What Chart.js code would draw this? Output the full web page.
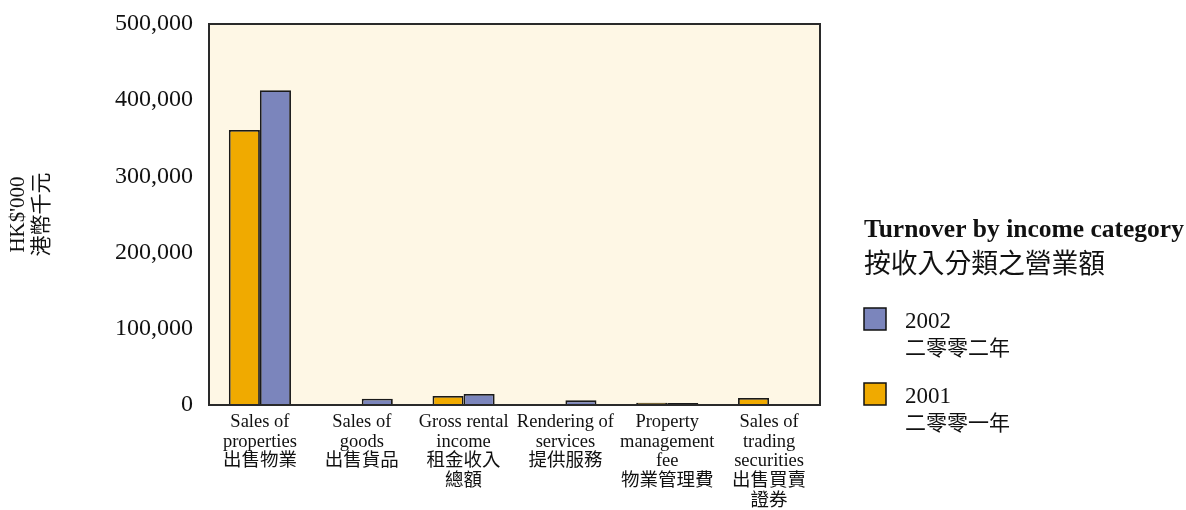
<!DOCTYPE html>
<html>
<head>
<meta charset="utf-8">
<script src="https://cdn.jsdelivr.net/npm/chart.js@4/dist/chart.umd.min.js"></script>
<style>
  html, body { margin: 0; padding: 0; background: #ffffff; }
  #wrap { width: 1186px; height: 510px; }
</style>
</head>
<body>
<div id="wrap"><canvas id="c" width="1186" height="510"></canvas></div>
<script>
// Income categories (English + Chinese, one array entry per label line)
const categories = [
  ["Sales of", "properties", "出售物業"],
  ["Sales of", "goods", "出售貨品"],
  ["Gross rental", "income", "租金收入", "總額"],
  ["Rendering of", "services", "提供服務"],
  ["Property", "management", "fee", "物業管理費"],
  ["Sales of", "trading", "securities", "出售買賣", "證券"]
];

// Turnover, HK$'000
const turnover2001 = [361000, 0, 11800, 0, 3000, 9200];
const turnover2002 = [413000, 8300, 14400, 6100, 2500, 500];

const yTicks = [0, 100000, 200000, 300000, 400000, 500000];

const legendTitle = ["Turnover by income category", "按收入分類之營業額"];
const seriesNames = {
  "2002": ["2002", "二零零二年"],
  "2001": ["2001", "二零零一年"]
};

const SERIF = "'Liberation Serif', 'Noto Sans CJK TC', serif";
const CJK = "'Noto Sans CJK TC', 'Liberation Serif', sans-serif";

const COLOR_2001 = "#F0AA00";
const COLOR_2002 = "#7B85BC";

// Cream plot background and dark frame around the plotting area
const frame = {
  id: "frame",
  beforeDatasetsDraw(chart) {
    const { ctx, chartArea: a } = chart;
    ctx.save();
    ctx.fillStyle = "#FEF7E5";
    ctx.fillRect(a.left, a.top, a.right - a.left, a.bottom - a.top);
    ctx.restore();
  },
  afterDatasetsDraw(chart) {
    const { ctx, chartArea: a } = chart;
    ctx.save();
    ctx.strokeStyle = "#2a2a2a";
    ctx.lineWidth = 2;
    ctx.strokeRect(a.left, a.top, a.right - a.left, a.bottom - a.top);
    ctx.restore();
  }
};

// Legend block on the right, built from the datasets
const sideLegend = {
  id: "sideLegend",
  afterDraw(chart) {
    const { ctx } = chart;
    const x0 = 864;
    ctx.save();
    ctx.fillStyle = "#111";
    ctx.textBaseline = "middle";
    ctx.textAlign = "left";
    ctx.font = "bold 25.5px " + SERIF;
    ctx.fillText(legendTitle[0], x0, 230);
    ctx.font = "26.8px " + CJK;
    ctx.fillText(legendTitle[1], x0, 263);

    const order = chart.data.datasets.slice().reverse();
    order.forEach((ds, i) => {
      const top = 308 + i * 75;
      ctx.fillStyle = ds.backgroundColor;
      ctx.fillRect(x0, top, 22, 22);
      ctx.strokeStyle = "#111";
      ctx.lineWidth = 1.5;
      ctx.strokeRect(x0, top, 22, 22);
      const names = seriesNames[ds.label];
      ctx.fillStyle = "#111";
      ctx.font = "23px " + SERIF;
      ctx.fillText(names[0], 905, top + 14);
      ctx.font = "21px " + CJK;
      ctx.fillText(names[1], 905, top + 39);
    });
    ctx.restore();
  }
};

new Chart(document.getElementById("c"), {
  type: "bar",
  data: {
    labels: categories,
    datasets: [
      {
        label: "2001",
        data: turnover2001,
        backgroundColor: COLOR_2001,
        borderColor: "#1a1a1a",
        borderWidth: 1.8,
        borderSkipped: "bottom"
      },
      {
        label: "2002",
        data: turnover2002,
        backgroundColor: COLOR_2002,
        borderColor: "#1a1a1a",
        borderWidth: 1.8,
        borderSkipped: "bottom"
      }
    ]
  },
  options: {
    responsive: false,
    animation: false,
    layout: { padding: { left: 0, right: 366, top: 24, bottom: 0 } },
    plugins: {
      legend: { display: false },
      tooltip: { enabled: false }
    },
    datasets: {
      bar: { barPercentage: 1.0, categoryPercentage: 0.61 }
    },
    scales: {
      x: {
        grid: { display: false, drawTicks: false },
        border: { display: false },
        ticks: {
          color: "#111",
          padding: 7,
          maxRotation: 0,
          autoSkip: false,
          font: { family: SERIF, size: 18.5, lineHeight: 1.07 }
        },
        afterFit(scale) { scale.height = 105; }
      },
      y: {
        min: 0,
        max: 500000,
        grid: { display: false, drawTicks: false },
        border: { display: false },
        afterBuildTicks(scale) {
          scale.ticks = yTicks.map(v => ({ value: v }));
        },
        ticks: {
          color: "#111",
          padding: 16,
          font: { family: SERIF, size: 24, lineHeight: 0.5 },
          callback: v => v.toLocaleString("en-US")
        },
        title: {
          display: true,
          text: ["HK$'000", "港幣千元"],
          color: "#111",
          padding: { top: 6, bottom: 0 },
          font: { family: SERIF, size: 21, lineHeight: 1.15 }
        },
        afterFit(scale) { scale.width = 209; }
      }
    }
  },
  plugins: [frame, sideLegend]
});
</script>
</body>
</html>
